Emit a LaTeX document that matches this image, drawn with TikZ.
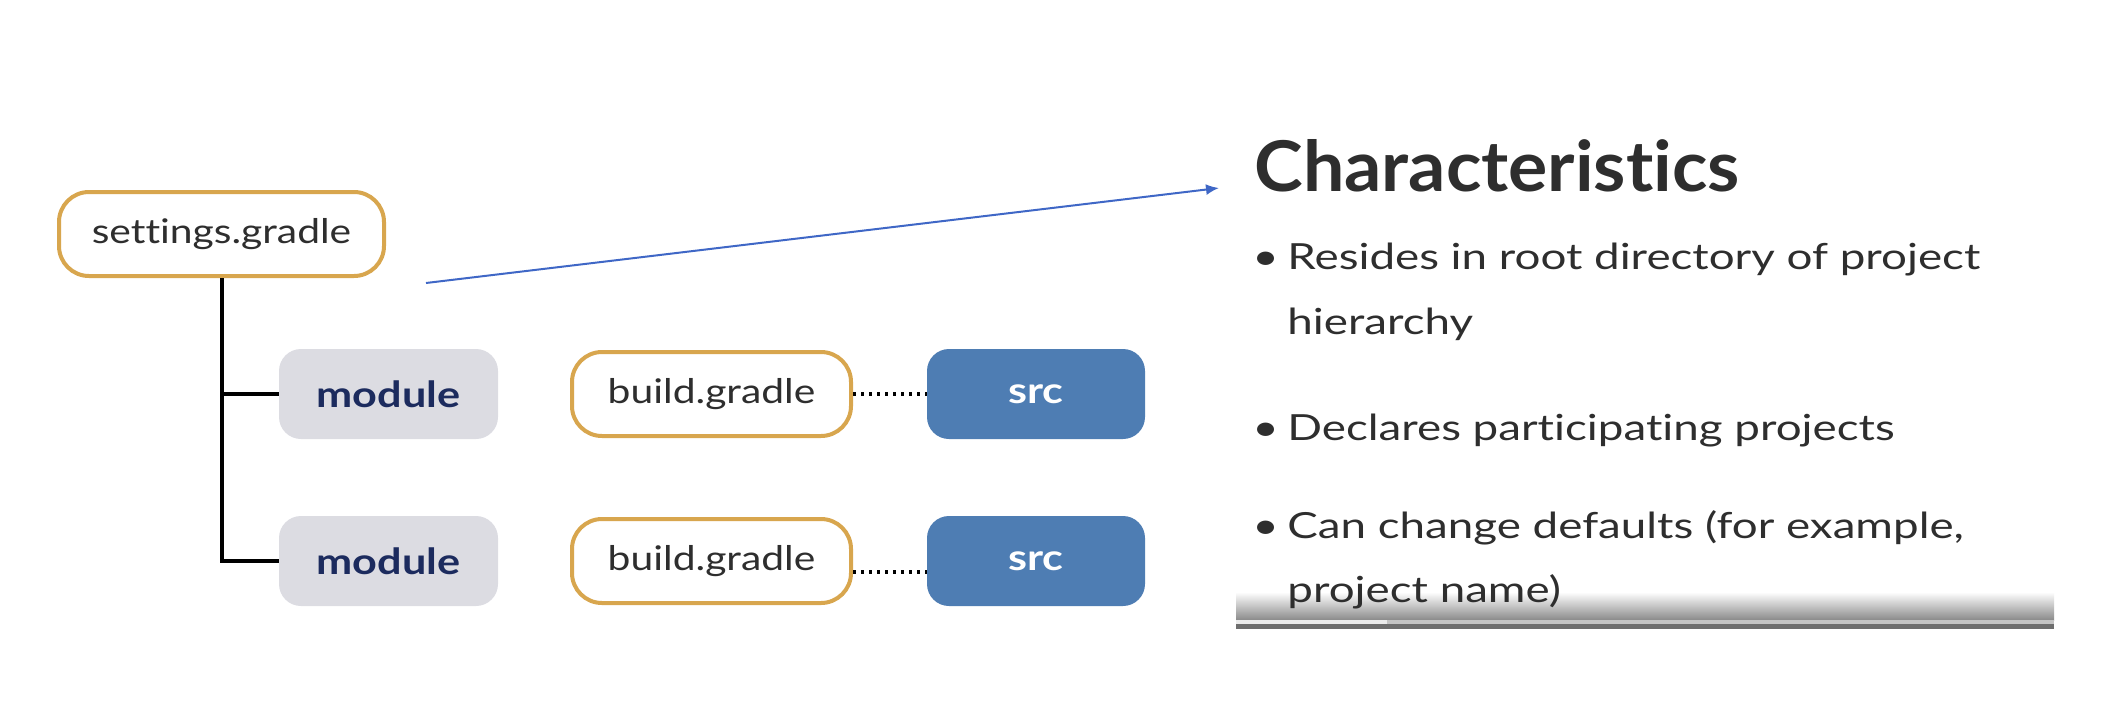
\documentclass[tikz,border=0pt]{standalone}
\usepackage{fontspec}
\setmainfont{Lato}[Ligatures=NoCommon]
\newfontfamily\boxfont{Lato}[FakeStretch=1.2, Ligatures=NoCommon]
\newfontfamily\listfont{Lato}[FakeStretch=1.27, Ligatures=NoCommon]
\newfontfamily\headfont{Lato}[FakeStretch=1.05, Ligatures=NoCommon]
\usetikzlibrary{arrows.meta,positioning}

\definecolor{gold}{HTML}{D8A64E}
\definecolor{modgray}{HTML}{DCDCE2}
\definecolor{navy}{HTML}{1C2B5E}
\definecolor{srcblue}{HTML}{4E7DB3}
\definecolor{arrowblue}{HTML}{3F67C6}
\definecolor{txt}{HTML}{2E2E2E}
\definecolor{bargray}{HTML}{8A8A8A}
\definecolor{barlight}{HTML}{C4C4C4}
\definecolor{bardark}{HTML}{6E6E6E}

\tikzset{
  filebox/.style={draw=gold, line width=2pt, fill=white, rounded corners=15pt,
    text=txt, font=\boxfont\fontsize{17}{20}\selectfont, minimum height=42pt, inner sep=0pt},
  modbox/.style={fill=modgray, rounded corners=11pt, minimum width=109.5pt,
    minimum height=45pt, text=navy, font=\boxfont\fontsize{18}{20}\selectfont\bfseries},
  srcbox/.style={fill=srcblue, rounded corners=11pt, minimum width=109pt,
    minimum height=45pt, text=white, font=\boxfont\fontsize{18}{20}\selectfont\bfseries},
  treeline/.style={line width=2pt},
  dotline/.style={line width=1.6pt, dash pattern=on 1.6pt off 2.4pt},
  bullet/.style={anchor=base west, text=txt, font=\listfont\fontsize{18}{20}\selectfont, inner sep=0pt},
}

\begin{document}
\begin{tikzpicture}[x=0.5pt, y=-0.5pt]
\useasboundingbox (0,0) rectangle (2104,724);

% Project tree on the left
\node[filebox, minimum width=162.5pt] (settings) at (221.5,234) {settings.gradle};
\foreach \i/\y in {1/394, 2/561} {
    \node[modbox] (mod\i) at (388.5,\y) {module};
    \node[filebox, minimum width=139.5pt] (build\i) at (711.5,\y) {build.gradle};
    \node[srcbox] (src\i) at (1036,\y) {src};
}

% Tree lines
\draw[treeline] (settings.south) |- (mod2.west);
\draw[treeline] (settings.south |- mod1.west) -- (mod1.west);

% Dotted links build.gradle -- src
\draw[dotline] (build1.east) -- (src1.west);
\draw[dotline] ([yshift=-5.5pt]build2.east) -- ([yshift=-5.5pt]src2.west);

% Pointer to the text
\coordinate (from) at (426,283);
\coordinate (to) at (1219,188);
\draw[arrowblue, line width=1pt, -{Latex[length=6.5pt,width=5.5pt]}] (from) -- (to);

% Player bar at the bottom
\shade[top color=white, bottom color=bargray] (1236,592) rectangle (2054,620);
\fill[barlight] (1236,620) rectangle (2054,624);
\fill[white!85!gray] (1236,620) rectangle (1387,624);
\fill[bardark] (1236,624) rectangle (2054,629);

% Characteristics
\node[anchor=base west, inner sep=0pt, text=txt, font=\headfont\fontsize{35}{40}\selectfont\bfseries] (title) at (1254,191) {Characteristics};
\foreach \y in {269,440,538} {
    \node[bullet] (dot\y) at (1252,\y) {•};
}
\node[bullet] (line1) at (1287,269) {Resides in root directory of project};
\node[bullet] (line2) at (1287,334) {hierarchy};
\node[bullet] (line3) at (1287,440) {Declares participating projects};
\node[bullet] (line4) at (1287,538) {Can change defaults (for example,};
\node[bullet] (line5) at (1287,602) {project name)};

\end{tikzpicture}
\end{document}
